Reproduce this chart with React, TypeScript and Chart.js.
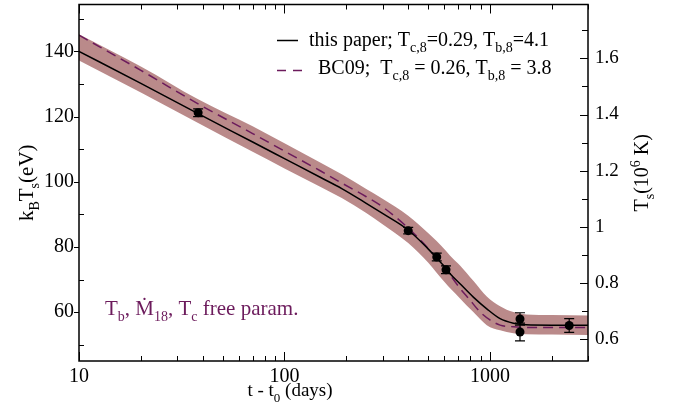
import React, { useEffect, useRef } from "react";
import { Chart, registerables } from "chart.js";

Chart.register(...registerables);

// ---- data ----
const curveT = [10, 20, 38, 70, 100, 150, 190, 250, 300, 400, 500, 550, 610, 640, 715, 830, 965, 1120, 1300, 1500, 2000, 3000];
const thisPaperKT = [140, 130.2, 120.9, 112.2, 107.1, 101.3, 97.9, 93.4, 90.3, 85.2, 79.4, 76.6, 73.5, 71.8, 68.7, 64.6, 61.0, 58.0, 56.6, 56.1, 56.0, 56.0];
const bandUpperKT = [145.3, 135.4, 125.3, 117.0, 111.8, 105.8, 102.3, 97.8, 94.8, 89.6, 84.3, 81.8, 78.8, 77.3, 74.3, 69.6, 64.8, 61.8, 60.0, 59.3, 59.1, 59.0];
const bandLowerKT = [137.2, 127.4, 118.0, 109.2, 104.1, 98.4, 95.0, 90.4, 87.0, 81.2, 75.2, 72.1, 68.8, 67.3, 64.2, 60.0, 56.0, 54.4, 53.5, 53.2, 53.1, 53.0];
const bc09T = [10, 20, 38, 70, 100, 150, 190, 250, 300, 400, 500, 550, 610, 640, 715, 800, 893, 1000, 1120, 1300, 1500, 3000];
const bc09KT = [145, 134.2, 123.9, 114.8, 109.4, 103.3, 99.6, 95.4, 92.3, 85.8, 79.6, 76.6, 73.2, 71.4, 67.3, 63.7, 60.1, 57.6, 56.0, 55.5, 55.3, 55.3];
const obsT = [38, 400, 551, 611, 1400, 1400, 2430];
const obsKT = [121.2, 85.0, 76.9, 73.0, 57.9, 53.9, 55.9];
const obsErr = [1.2, 1.0, 1.2, 1.2, 1.9, 2.7, 2.1];

const xTicks = [10, 100, 1000];
const yTicks = [60, 80, 100, 120, 140];
const yMinorTicks = [50, 70, 90, 110, 130, 150];
const rTicks = [0.6, 0.8, 1.0, 1.2, 1.4, 1.6];
const rTickLabels = ["0.6", "0.8", "1", "1.2", "1.4", "1.6"];
const rMinorTicks = [0.7, 0.9, 1.1, 1.3, 1.5, 1.7];

const EV_TO_MK = 0.0116045;
const Y_MIN = 45;
const Y_MAX = 154.4;
const X_MIN = 10;
const X_MAX = 3000;

const BAND = "rgb(186,138,138)";
const PURPLE = "#6c1b5c";
const FONT = '"Liberation Serif"';

type Seg = { t: string; s?: "sub" | "sup" };

function drawRich(ctx: CanvasRenderingContext2D, segs: Seg[], x: number, y: number, size: number, color: string, align: "left" | "center") {
  const main = `${size}px ${FONT}`;
  const small = `${Math.round(size * 0.68)}px ${FONT}`;
  let w = 0;
  for (const s of segs) {
    ctx.font = s.s ? small : main;
    w += ctx.measureText(s.t).width;
  }
  let cx = align === "center" ? x - w / 2 : x;
  ctx.fillStyle = color;
  ctx.textBaseline = "alphabetic";
  ctx.textAlign = "left";
  for (const s of segs) {
    ctx.font = s.s ? small : main;
    const dy = s.s === "sub" ? size * 0.3 : s.s === "sup" ? -size * 0.42 : 0;
    ctx.fillText(s.t, cx, y + dy);
    cx += ctx.measureText(s.t).width;
  }
}

const zeroPad = (s: any) => {
  s.paddingTop = 0;
  s.paddingBottom = 0;
  s.paddingLeft = 0;
  s.paddingRight = 0;
};

const decorPlugin = {
  id: "decor",
  afterDatasetsDraw(chart: any) {
    const { ctx, scales } = chart;
    const x = scales.x;
    const y = scales.y;
    ctx.save();
    ctx.strokeStyle = "#000";
    ctx.lineWidth = 1.2;
    for (let i = 0; i < obsT.length; i++) {
      const px = x.getPixelForValue(obsT[i]);
      const top = y.getPixelForValue(obsKT[i] + obsErr[i]);
      const bot = y.getPixelForValue(obsKT[i] - obsErr[i]);
      ctx.beginPath();
      ctx.moveTo(px, top);
      ctx.lineTo(px, bot);
      ctx.moveTo(px - 5, top);
      ctx.lineTo(px + 5, top);
      ctx.moveTo(px - 5, bot);
      ctx.lineTo(px + 5, bot);
      ctx.stroke();
    }
    ctx.restore();
  },
  afterDraw(chart: any) {
    const { ctx, chartArea: a, scales } = chart;
    const x = scales.x;
    const y = scales.y;
    const r = scales.y2;
    ctx.save();
    ctx.strokeStyle = "#000";
    ctx.lineWidth = 1.5;
    ctx.strokeRect(a.left, a.top, a.right - a.left, a.bottom - a.top);
    ctx.lineWidth = 1;
    ctx.beginPath();
    for (let d = 10; d <= 1000; d *= 10) {
      for (let m = 1; m <= 9; m++) {
        const v = d * m;
        if (v < X_MIN || v > X_MAX) continue;
        const px = Math.round(x.getPixelForValue(v)) + 0.5;
        const len = m === 1 ? 9 : 5;
        ctx.moveTo(px, a.bottom);
        ctx.lineTo(px, a.bottom - len);
        ctx.moveTo(px, a.top);
        ctx.lineTo(px, a.top + len);
      }
    }
    for (const v of yTicks) {
      const py = Math.round(y.getPixelForValue(v)) + 0.5;
      ctx.moveTo(a.left, py);
      ctx.lineTo(a.left - 5, py);
    }
    for (const v of yMinorTicks) {
      const py = Math.round(y.getPixelForValue(v)) + 0.5;
      ctx.moveTo(a.left, py);
      ctx.lineTo(a.left + 5, py);
    }
    for (const v of rTicks) {
      const py = Math.round(r.getPixelForValue(v)) + 0.5;
      ctx.moveTo(a.right, py);
      ctx.lineTo(a.right - 8, py);
    }
    for (const v of rMinorTicks) {
      const py = Math.round(r.getPixelForValue(v)) + 0.5;
      ctx.moveTo(a.right, py);
      ctx.lineTo(a.right - 6, py);
    }
    ctx.stroke();

    // legend
    const lx = a.left + 198;
    ctx.lineWidth = 1.5;
    ctx.strokeStyle = "#000";
    ctx.beginPath();
    ctx.moveTo(lx, a.top + 36);
    ctx.lineTo(lx + 21, a.top + 36);
    ctx.stroke();
    ctx.strokeStyle = PURPLE;
    ctx.setLineDash([9, 7]);
    ctx.beginPath();
    ctx.moveTo(lx, a.top + 66);
    ctx.lineTo(lx + 26, a.top + 66);
    ctx.stroke();
    ctx.setLineDash([]);
    drawRich(ctx, [
      { t: "this paper; T" }, { t: "c,8", s: "sub" }, { t: "=0.29, T" }, { t: "b,8", s: "sub" }, { t: "=4.1" },
    ], lx + 32, a.top + 41, 20, "#000", "left");
    drawRich(ctx, [
      { t: "BC09;  T" }, { t: "c,8", s: "sub" }, { t: " = 0.26, T" }, { t: "b,8", s: "sub" }, { t: " = 3.8" },
    ], lx + 41, a.top + 69, 20, "#000", "left");

    // annotation
    drawRich(ctx, [
      { t: "T" }, { t: "b", s: "sub" }, { t: ", \u1E40" }, { t: "18", s: "sub" }, { t: ", T" }, { t: "c", s: "sub" }, { t: " free param." },
    ], a.left + 26, a.top + 310, 21, PURPLE, "left");

    // axis titles
    drawRich(ctx, [{ t: "t - t" }, { t: "0", s: "sub" }, { t: " (days)" }], a.left + 211, a.bottom + 35, 19, "#000", "center");

    ctx.save();
    ctx.translate(33, (a.top + a.bottom) / 2);
    ctx.rotate(-Math.PI / 2);
    drawRich(ctx, [{ t: "k" }, { t: "B", s: "sub" }, { t: "T" }, { t: "s", s: "sub" }, { t: "(eV)" }], 0, 0, 21, "#000", "center");
    ctx.restore();

    ctx.save();
    ctx.translate(a.right + 60, (a.top + a.bottom) / 2 - 10);
    ctx.rotate(-Math.PI / 2);
    drawRich(ctx, [{ t: "T" }, { t: "s", s: "sub" }, { t: "(10" }, { t: "6", s: "sup" }, { t: " K)" }], 0, 0, 20, "#000", "center");
    ctx.restore();

    ctx.restore();
  },
};

export default function App() {
  const ref = useRef<HTMLCanvasElement | null>(null);
  useEffect(() => {
    if (!ref.current) return;
    const pts = (xs: number[], ys: number[]) => xs.map((t, i) => ({ x: t, y: ys[i] }));
    const chart = new Chart(ref.current, {
      type: "line",
      data: {
        datasets: [
          {
            data: pts(curveT, bandUpperKT),
            borderWidth: 0,
            pointRadius: 0,
            fill: "+1",
            backgroundColor: BAND,
            borderColor: "rgba(0,0,0,0)",
            cubicInterpolationMode: "monotone",
            order: 10,
          },
          {
            data: pts(curveT, bandLowerKT),
            borderWidth: 0,
            pointRadius: 0,
            fill: false,
            borderColor: "rgba(0,0,0,0)",
            cubicInterpolationMode: "monotone",
            order: 9,
          },
          {
            data: pts(curveT, thisPaperKT),
            borderColor: "#000",
            borderWidth: 1.5,
            pointRadius: 0,
            fill: false,
            cubicInterpolationMode: "monotone",
            order: 2,
          },
          {
            data: pts(bc09T, bc09KT),
            borderColor: PURPLE,
            borderWidth: 1.5,
            borderDash: [10, 6],
            pointRadius: 0,
            fill: false,
            cubicInterpolationMode: "monotone",
            order: 3,
          },
          {
            data: pts(obsT, obsKT),
            showLine: false,
            pointRadius: 4.5,
            pointBorderWidth: 0,
            pointBackgroundColor: "#000",
            pointBorderColor: "#000",
            borderColor: "#000",
            fill: false,
            order: 0,
          },
        ],
      } as any,
      options: {
        animation: false,
        responsive: false,
        maintainAspectRatio: false,
        devicePixelRatio: 1,
        layout: { padding: { top: 3, left: 0, right: 0, bottom: 0 } },
        plugins: { legend: { display: false }, tooltip: { enabled: false } },
        scales: {
          x: {
            type: "logarithmic",
            min: X_MIN,
            max: X_MAX,
            grid: { display: false, drawTicks: false },
            border: { display: false },
            afterBuildTicks: (s: any) => {
              s.ticks = xTicks.map((v) => ({ value: v }));
            },
            afterFit: (s: any) => {
              s.height = 53;
              zeroPad(s);
            },
            ticks: {
              autoSkip: false,
              maxRotation: 0,
              padding: 4,
              color: "#000",
              font: { family: FONT, size: 20 },
              callback: (v: any) => String(v),
            },
          },
          y: {
            type: "linear",
            position: "left",
            min: Y_MIN,
            max: Y_MAX,
            grid: { display: false, drawTicks: false },
            border: { display: false },
            afterBuildTicks: (s: any) => {
              s.ticks = yTicks.map((v) => ({ value: v }));
            },
            afterFit: (s: any) => {
              s.width = 79;
              zeroPad(s);
            },
            ticks: {
              padding: 5,
              color: "#000",
              font: { family: FONT, size: 20 },
              callback: (v: any) => String(v),
            },
          },
          y2: {
            type: "linear",
            position: "right",
            min: Y_MIN * EV_TO_MK,
            max: Y_MAX * EV_TO_MK,
            grid: { display: false, drawTicks: false },
            border: { display: false },
            afterBuildTicks: (s: any) => {
              s.ticks = rTicks.map((v) => ({ value: v }));
            },
            afterFit: (s: any) => {
              s.width = 91;
              zeroPad(s);
            },
            ticks: {
              padding: 7,
              color: "#000",
              font: { family: FONT, size: 19 },
              callback: (v: any) => {
                const i = rTicks.findIndex((t) => Math.abs(t - v) < 1e-6);
                return i >= 0 ? rTickLabels[i] : "";
              },
            },
          },
        },
      } as any,
      plugins: [decorPlugin],
    });
    return () => chart.destroy();
  }, []);
  return (
    <div style={{ position: "fixed", left: 0, top: 0, width: 679, height: 414, background: "#fff" }}>
      <canvas ref={ref} width={679} height={414} style={{ width: 679, height: 414, display: "block" }} />
    </div>
  );
}
